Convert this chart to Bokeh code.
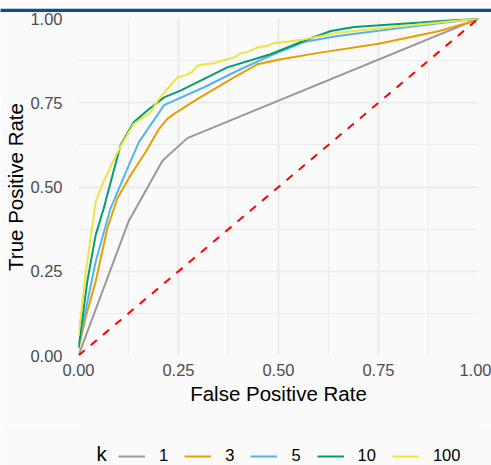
from bokeh.plotting import figure
from bokeh.models import (Legend, LegendItem, FixedTicker, Title, Range1d)
from bokeh.layouts import column
from bokeh.core.properties import value
from bokeh.embed import file_html
from bokeh.resources import INLINE

# ---- data ----
legend_title = "k"
ks = ["1", "3", "5", "10", "100"]
colors = ["#999999", "#E69F00", "#56B4E9", "#009E73", "#F0E442"]

fpr_k1 = [0, 0.126, 0.21, 0.272, 1]
tpr_k1 = [0, 0.40, 0.578, 0.645, 1]

fpr_k3 = [0, 0.0175, 0.043, 0.072, 0.097, 0.13, 0.168, 0.20, 0.222, 0.239, 0.30, 0.389, 0.447, 0.506, 0.60, 0.75, 0.90, 0.98, 1]
tpr_k3 = [0.02, 0.112, 0.22, 0.377, 0.466, 0.535, 0.604, 0.67, 0.702, 0.717, 0.763, 0.825, 0.864, 0.879, 0.898, 0.925, 0.962, 0.99, 1]

fpr_k5 = [0, 0.009, 0.043, 0.08, 0.122, 0.151, 0.214, 0.314, 0.397, 0.48, 0.564, 0.648, 0.814, 1]
tpr_k5 = [0.03, 0.082, 0.279, 0.436, 0.554, 0.633, 0.743, 0.796, 0.845, 0.89, 0.93, 0.948, 0.973, 1]

fpr_k10 = [0, 0.022, 0.043, 0.063, 0.105, 0.138, 0.172, 0.214, 0.255, 0.372, 0.48, 0.564, 0.631, 0.689, 0.856, 1]
tpr_k10 = [0.023, 0.22, 0.358, 0.436, 0.624, 0.692, 0.727, 0.766, 0.786, 0.855, 0.894, 0.934, 0.963, 0.975, 0.988, 1]

fpr_k100 = [0, 0.0175, 0.043, 0.055, 0.08, 0.105, 0.138, 0.16, 0.18, 0.201, 0.222, 0.247, 0.268, 0.285, 0.297,
            0.314, 0.339, 0.355, 0.372, 0.389, 0.405, 0.422, 0.447, 0.472, 0.489, 0.506, 0.564, 0.648, 0.814, 1]
tpr_k100 = [0.058, 0.24, 0.456, 0.495, 0.56, 0.62, 0.687, 0.705, 0.722, 0.761, 0.791, 0.825, 0.832, 0.842, 0.86,
            0.864, 0.867, 0.874, 0.879, 0.884, 0.897, 0.901, 0.914, 0.919, 0.927, 0.929, 0.938, 0.958, 0.978, 1]

diag_x = [0, 1]
diag_y = [0, 1]

tick_vals = [0, 0.25, 0.5, 0.75, 1.0]
tick_labels = ["0.00", "0.25", "0.50", "0.75", "1.00"]
minor_vals = [0.125, 0.375, 0.625, 0.875]

FONT = "Liberation Sans"
BG = "#FAFAFA"
W = 491
H_MAIN = 425
H_LEG = 40
BL, BR = 78, 13

p = figure(width=W, height=H_MAIN, output_backend="svg", toolbar_location=None,
           x_range=Range1d(0, 1), y_range=Range1d(0, 1),
           min_border_left=BL, min_border_right=BR, min_border_top=16, min_border_bottom=70)
p.background_fill_color = BG
p.border_fill_color = BG
p.outline_line_color = None

# thin blue header bar drawn as a title background
bar = Title(text=" " * 700, text_font_size="3px", background_fill_color="#0B4F8C",
            standoff=13, align="left", offset=-78)
p.add_layout(bar, "above")

series = [(fpr_k1, tpr_k1), (fpr_k3, tpr_k3), (fpr_k5, tpr_k5), (fpr_k10, tpr_k10), (fpr_k100, tpr_k100)]
for (fx, ty), c in zip(series, colors):
    p.line(fx, ty, line_color=c, line_width=2)

p.line(diag_x, diag_y, line_color="red", line_width=2, line_dash="8 8")

for ax in (p.xaxis[0], p.yaxis[0]):
    ax.ticker = FixedTicker(ticks=tick_vals, minor_ticks=minor_vals)
    ax.major_label_overrides = {v: l for v, l in zip(tick_vals, tick_labels)}
    ax.axis_line_color = None
    ax.major_tick_line_color = None
    ax.minor_tick_line_color = None
    ax.major_label_text_font = FONT
    ax.major_label_text_font_size = "16.5px"
    ax.major_label_text_color = "#4D4D4D"
    ax.axis_label_text_font = FONT
    ax.axis_label_text_font_size = "20.5px"
    ax.axis_label_text_font_style = "normal"
    ax.axis_label_text_color = "black"

p.xaxis.axis_label = "False Positive Rate"
p.yaxis.axis_label = "True Positive Rate"
p.xaxis.major_label_standoff = 2
p.yaxis.major_label_standoff = 10
p.xaxis.axis_label_standoff = 3
p.yaxis.axis_label_standoff = 0

for g in (p.xgrid[0], p.ygrid[0]):
    g.grid_line_color = "#EBEBEB"
    g.grid_line_width = 2
    g.minor_grid_line_color = "#EBEBEB"
    g.minor_grid_line_width = 1

# ---- legend strip (separate figure; its frame aligns with the main frame,
#      data units chosen equal to page pixels) ----
pl = figure(width=W, height=H_LEG, output_backend="svg", toolbar_location=None,
            x_range=Range1d(BL, W - BR), y_range=Range1d(0, H_LEG),
            min_border_left=BL, min_border_right=BR, min_border_top=0, min_border_bottom=0)
pl.background_fill_color = BG
pl.border_fill_color = BG
pl.outline_line_color = None
pl.axis.visible = False
pl.grid.visible = False

leg_renderers = [pl.line([-20, -10], [-20, -10], line_color=c, line_width=2) for c in colors]
items = [LegendItem(label=k, renderers=[r]) for k, r in zip(ks, leg_renderers)]
legend = Legend(items=items, orientation="horizontal", location=(118 - BL, 0),
                glyph_width=27, glyph_height=16, label_standoff=14, spacing=16, label_width=0,
                label_text_font=FONT, label_text_font_size="16.5px", label_text_color="black",
                background_fill_alpha=0, border_line_color=None, padding=0, margin=0)
pl.add_layout(legend, "center")
pl.text(x=[96], y=[0.5], text=[legend_title], text_font=value(FONT), text_font_size="20.5px",
        text_color="black", text_baseline="bottom", text_align="left")

layout = column(p, pl, spacing=0)
open("out.html", "w").write(file_html(layout, INLINE))
